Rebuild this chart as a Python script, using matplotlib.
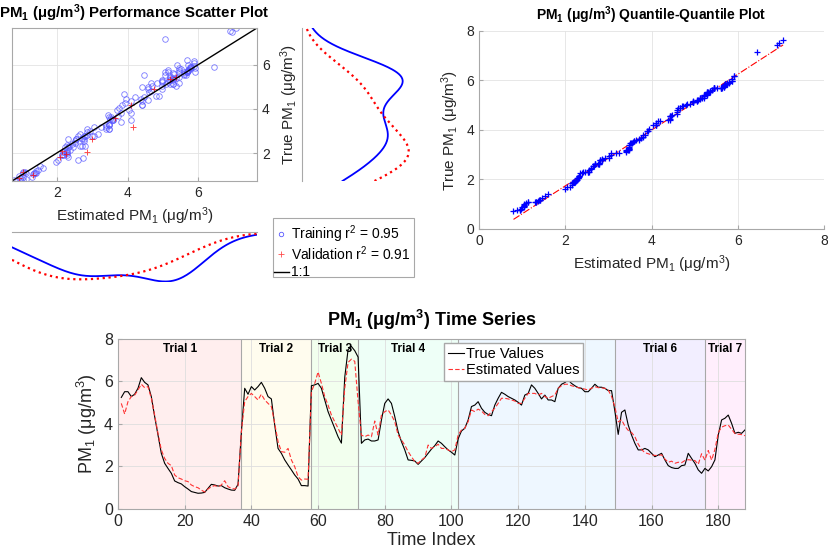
import colorsys
import numpy as np
import matplotlib
matplotlib.use('Agg')
import matplotlib.pyplot as plt
from matplotlib.patches import Rectangle
from matplotlib.lines import Line2D

plt.rcParams['font.family'] = ['Liberation Sans', 'DejaVu Sans']
plt.rcParams['mathtext.fontset'] = 'custom'
plt.rcParams['mathtext.rm'] = 'Liberation Sans'
plt.rcParams['mathtext.it'] = 'Liberation Sans:italic'
plt.rcParams['mathtext.bf'] = 'Liberation Sans:bold'
plt.rcParams['mathtext.default'] = 'regular'

# measured PM1 per time index (1..188)
true_vals = [
    5.25, 5.52, 5.52, 5.29, 5.40, 5.68, 6.18, 5.96, 5.84, 5.29,
    4.35, 3.48, 2.62, 2.15, 1.91, 1.68, 1.32, 1.24, 1.18, 1.05,
    0.94, 0.82, 0.78, 0.74, 0.75, 0.78, 0.97, 1.16, 1.13, 1.08,
    1.10, 1.00, 0.94, 0.89, 0.88, 1.16, 3.60, 5.68, 5.40, 5.76,
    5.60, 5.76, 5.96, 5.68, 5.29, 5.18, 3.95, 2.85, 2.62, 2.31,
    2.07, 1.84, 1.60, 1.41, 1.10, 1.10, 1.08, 5.80, 5.84, 5.91,
    5.68, 5.13, 4.58, 4.19, 3.80, 3.40, 3.10, 6.20, 7.50, 7.65,
    7.45, 7.15, 3.09, 3.25, 3.29, 3.20, 3.20, 3.25, 4.19, 4.97,
    5.18, 4.97, 4.35, 3.64, 3.17, 2.78, 2.31, 2.29, 2.26, 2.10,
    2.26, 2.42, 2.62, 2.82, 2.98, 3.20, 3.09, 2.93, 2.78, 2.67,
    2.54, 3.30, 3.67, 3.80, 4.19, 4.82, 4.89, 5.05, 4.74, 4.55,
    4.45, 4.39, 4.89, 5.21, 5.49, 5.40, 5.29, 5.21, 5.13, 5.02,
    4.89, 5.36, 5.44, 5.84, 5.68, 5.44, 5.18, 5.36, 5.13, 5.13,
    5.05, 5.68, 5.87, 5.95, 6.07, 5.91, 5.80, 5.71, 5.68, 5.52,
    5.52, 5.68, 5.87, 5.73, 5.73, 5.68, 5.57, 5.57, 4.60, 3.51,
    4.55, 4.66, 3.95, 3.48, 3.09, 2.78, 2.78, 2.85, 2.78, 2.62,
    2.46, 2.54, 2.62, 2.31, 2.04, 1.95, 1.91, 1.91, 2.04, 2.07,
    2.62, 2.38, 2.15, 1.84, 1.68, 1.91, 1.79, 1.99, 2.31, 3.48,
    4.19, 4.27, 4.42, 4.03, 3.56, 3.61, 3.56, 3.72,
]

# model estimate per time index
est_vals = [
    4.97, 4.47, 5.05, 5.29, 5.36, 5.60, 5.87, 5.71, 5.76, 5.21,
    4.42, 3.56, 2.78, 2.38, 2.15, 2.04, 1.60, 1.47, 1.41, 1.33,
    1.29, 1.13, 1.05, 1.00, 0.89, 0.80, 0.94, 1.05, 1.10, 1.05,
    1.13, 1.33, 1.05, 0.97, 0.94, 1.05, 3.64, 5.05, 5.29, 5.44,
    5.29, 5.13, 5.40, 5.13, 4.97, 4.82, 4.03, 3.17, 2.70, 2.67,
    2.85, 2.31, 1.99, 1.52, 1.36, 1.41, 1.40, 5.52, 5.91, 6.45,
    5.91, 5.29, 4.89, 4.42, 4.11, 3.80, 3.48, 5.68, 6.90, 7.05,
    6.95, 5.05, 3.48, 3.40, 3.48, 3.40, 4.14, 3.48, 4.42, 4.58,
    4.66, 4.42, 4.11, 3.48, 3.25, 3.01, 2.70, 2.46, 2.23, 2.15,
    2.31, 2.42, 3.01, 2.85, 2.93, 3.05, 2.85, 2.85, 2.78, 2.70,
    2.78, 3.48, 3.72, 3.80, 4.11, 4.66, 4.58, 4.70, 4.61, 4.45,
    4.39, 4.58, 4.74, 4.97, 5.21, 5.21, 5.18, 5.13, 5.08, 4.97,
    4.97, 5.21, 5.44, 5.44, 5.44, 5.36, 5.44, 5.29, 5.21, 5.29,
    5.36, 5.68, 5.80, 5.87, 5.87, 5.80, 5.76, 5.71, 5.68, 5.64,
    5.60, 5.68, 5.76, 5.71, 5.70, 5.68, 5.60, 5.30, 4.80, 4.10,
    4.20, 3.90, 3.70, 3.60, 3.40, 3.05, 2.80, 2.65, 2.60, 2.55,
    2.52, 2.52, 2.55, 2.35, 2.20, 2.25, 2.15, 2.20, 2.18, 2.28,
    2.32, 2.30, 2.28, 2.10, 2.60, 2.30, 2.75, 2.30, 2.80, 3.60,
    3.85, 3.92, 3.95, 3.75, 3.55, 3.52, 3.50, 3.45,
]

# time indices held out for validation
val_idx = [28, 32, 35, 37, 51, 77, 90, 93, 105, 113, 122, 126, 166, 174]

trial_edges = [0, 37, 58, 72, 102, 149, 176, 188]
trial_names = ['Trial 1', 'Trial 2', 'Trial 3', 'Trial 4', 'Trial 5', 'Trial 6', 'Trial 7']

legend_labels = ['Training r$^2$ = 0.95', 'Validation r$^2$ = 0.91', '1:1']

TXT = '#262626'
SPINE = '#a8a8a8'
GRID = '#e3e3e3'
BLUE_PT = (0.35, 0.35, 1.0)
W, H = 829, 555


def fx(px):
    return px / W


def fy(py):
    return 1 - py / H


def kde(x, grid):
    # gaussian kernel, robust normal-reference bandwidth
    x = np.asarray(x)
    sig = np.median(np.abs(x - np.median(x))) / 0.6745
    h = sig * (4.0 / (3.0 * len(x))) ** 0.2
    z = (grid[:, None] - x[None, :]) / h
    return np.exp(-0.5 * z ** 2).sum(axis=1) / (len(x) * h * np.sqrt(2 * np.pi))


true_a = np.array(true_vals)
est_a = np.array(est_vals)
t = np.arange(1, len(true_a) + 1)
is_val = np.isin(t, val_idx)

lo = min(true_a.min(), est_a.min())
hi = max(true_a.max(), est_a.max())

fig = plt.figure(figsize=(W / 100, H / 100), dpi=100)

# ---- scatter ----
ax1 = fig.add_axes([0.0145, 0.6739, 0.2955, 0.2757])
ax1.plot(est_a[~is_val], true_a[~is_val], 'o', mfc='none', mec=BLUE_PT,
         ms=4, mew=0.6, alpha=0.8)
ax1.plot(est_a[is_val], true_a[is_val], '+', mec='r', mfc='r', ms=5,
         mew=0.7, alpha=0.7)
ax1.plot([lo, hi], [lo, hi], 'k-', lw=1)
ax1.set_xlim(lo, hi)
ax1.set_ylim(lo, hi)
ax1.set_xticks([2, 4, 6])
ax1.set_yticks([2, 4, 6])
ax1.yaxis.tick_right()
ax1.yaxis.set_label_position('right')
ax1.grid(color=GRID, lw=0.6)
ax1.set_axisbelow(True)
ax1.tick_params(direction='in', length=3, labelsize=10, colors=TXT, color=SPINE)
for s in ax1.spines.values():
    s.set_color(SPINE)
ax1.set_xlabel('Estimated PM$_1$ ($\\mu$g/m$^3$)', fontsize=11, color=TXT, labelpad=4)
ax1.set_ylabel('True PM$_1$ ($\\mu$g/m$^3$)', fontsize=11, color=TXT, labelpad=6)
ax1.set_title('PM$_1$ ($\\mu$g/m$^3$) Performance Scatter Plot', fontsize=10.8,
              fontweight='bold', pad=7)

# ---- marginal densities ----
grid = np.linspace(lo, hi, 200)
dy_tr = kde(true_a[~is_val], grid)
dy_va = kde(true_a[is_val], grid)
dx_tr = kde(est_a[~is_val], grid)
dx_va = kde(est_a[is_val], grid)

ax2 = fig.add_axes([0.3643, 0.6739, 0.13, 0.2757])
ax2.plot(dy_tr, grid, '-', color='b', lw=1.3)
ax2.plot(dy_va, grid, ':', color='r', lw=1.6)
ax2.set_ylim(lo, hi)
ax2.set_xlim(0, max(dy_tr.max(), dy_va.max()) * 1.01)
for k, s in ax2.spines.items():
    s.set_visible(k == 'left')
    s.set_color(SPINE)
ax2.set_xticks([])
ax2.set_yticks([])
ax2.patch.set_visible(False)

ax5 = fig.add_axes([0.0145, 0.4919, 0.2955, 0.09])
ax5.plot(grid, -dx_tr, '-', color='b', lw=1.3)
ax5.plot(grid, -dx_va, ':', color='r', lw=1.6)
ax5.set_xlim(lo, hi)
ax5.set_ylim(-max(dx_tr.max(), dx_va.max()) * 1.01, 0)
for k, s in ax5.spines.items():
    s.set_visible(k == 'top')
    s.set_color(SPINE)
ax5.set_xticks([])
ax5.set_yticks([])
ax5.patch.set_visible(False)

# ---- scatter legend, laid out by hand in figure pixels ----
fig.add_artist(Rectangle((fx(273), fy(277)), 141 / W, 59 / H,
                         transform=fig.transFigure, facecolor='white',
                         edgecolor=SPINE, lw=0.8))
row_y = [234, 254, 272]
fig.add_artist(Line2D([fx(281)], [fy(row_y[0])], transform=fig.transFigure,
                      marker='o', mfc='none', mec=BLUE_PT, ms=3.2, mew=0.6, ls='none'))
fig.add_artist(Line2D([fx(281)], [fy(row_y[1])], transform=fig.transFigure,
                      marker='+', mec='r', ms=4, mew=0.6, alpha=0.7, ls='none'))
fig.add_artist(Line2D([fx(274), fx(289)], [fy(row_y[2])] * 2,
                      transform=fig.transFigure, color='k', lw=1))
for lab, yy in zip(legend_labels, row_y):
    fig.text(fx(291), fy(yy), lab, fontsize=10, va='center', ha='left')

# ---- Q-Q plot ----
ax3 = fig.add_axes([0.5778, 0.5874, 0.4162, 0.3568])
xs = np.sort(est_a)
ys = np.sort(true_a)
q1x, q3x = np.percentile(est_a, [25, 75])
q1y, q3y = np.percentile(true_a, [25, 75])
slope = (q3y - q1y) / (q3x - q1x)
lx = np.array([xs[0], xs[-1]])
ax3.plot(lx, q1y + slope * (lx - q1x), '-.', color='r', lw=0.8)
ax3.plot(xs, ys, '+', color='b', ms=5, mew=0.9)
ax3.set_xlim(0, 8)
ax3.set_ylim(0, 8)
ax3.set_xticks(range(0, 9, 2))
ax3.set_yticks(range(0, 9, 2))
ax3.grid(color=GRID, lw=0.6)
ax3.set_axisbelow(True)
ax3.tick_params(direction='in', length=3, labelsize=10, colors=TXT, color=SPINE)
for k, s in ax3.spines.items():
    s.set_visible(k in ('left', 'bottom'))
    s.set_color(SPINE)
ax3.set_xlabel('Estimated PM$_1$ ($\\mu$g/m$^3$)', fontsize=11, color=TXT)
ax3.set_ylabel('True PM$_1$ ($\\mu$g/m$^3$)', fontsize=11, color=TXT)
ax3.set_title('PM$_1$ ($\\mu$g/m$^3$) Quantile-Quantile Plot', fontsize=10,
              fontweight='bold', pad=8)

# ---- time series ----
ax4 = fig.add_axes([0.1423, 0.0829, 0.7563, 0.3063])
trial_txt = []
for i, name in enumerate(trial_names):
    a, b = trial_edges[i], trial_edges[i + 1]
    col = colorsys.hsv_to_rgb(i / len(trial_names), 1, 1)
    ax4.axvspan(a, b, color=col, alpha=0.065, lw=0, zorder=0)
    trial_txt.append(ax4.text((a + b) / 2, 7.55, name, ha='center', va='center',
                              fontsize=8.5, fontweight='bold', zorder=3))
for e in trial_edges[1:-1]:
    ax4.axvline(e, color=SPINE, lw=0.8, zorder=1)
ax4.plot(t, true_a, '-', color='k', lw=0.8, label='True Values', zorder=4)
ax4.plot(t, est_a, '--', color=(1, 0.2, 0.2), lw=0.8, dashes=(4, 2),
         label='Estimated Values', zorder=4)
ax4.set_xlim(0, 188)
ax4.set_ylim(0, 8)
ax4.set_xticks(range(0, 181, 20))
ax4.set_yticks(range(0, 9, 2))
ax4.grid(color='#dedede', lw=0.6)
ax4.set_axisbelow(True)
ax4.tick_params(direction='in', length=3, labelsize=11.5, colors=TXT, color=SPINE)
for s in ax4.spines.values():
    s.set_color(SPINE)
ax4.set_xlabel('Time Index', fontsize=13, color=TXT, labelpad=2)
ax4.set_ylabel('PM$_1$ ($\\mu$g/m$^3$)', fontsize=13, color=TXT)
ax4.set_title('PM$_1$ ($\\mu$g/m$^3$) Time Series', fontsize=13, fontweight='bold', pad=9)
leg = ax4.legend(loc='upper left', bbox_to_anchor=(0.52, 0.976), fontsize=10.5,
                 handlelength=1.1, handletextpad=0.15, borderpad=0.25,
                 labelspacing=0.15, fancybox=False, edgecolor=SPINE, framealpha=1,
                 borderaxespad=0)
leg.set_zorder(6)

# a trial label that ends up under the legend is hidden there, as in the reference
fig.canvas.draw()
rend = fig.canvas.get_renderer()
lbox = leg.get_window_extent(rend)
for tx in trial_txt:
    if tx.get_window_extent(rend).overlaps(lbox):
        tx.set_visible(False)

fig.savefig('out.png', dpi=100)
